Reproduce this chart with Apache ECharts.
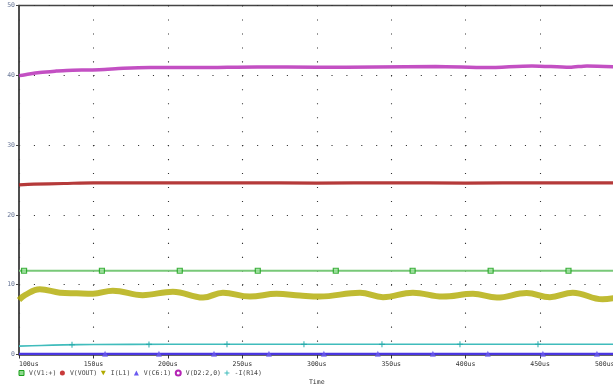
<!DOCTYPE html>
<html>
<head>
<meta charset="utf-8">
<script src="https://cdn.jsdelivr.net/npm/echarts@6/dist/echarts.min.js"></script>
<style>
html,body{margin:0;padding:0;background:#fff;}
#c{width:613px;height:387px;}
</style>
</head>
<body>
<div id="c"></div>
<script>
// ---- data (time in us) ----
const xTicks = [100, 150, 200, 250, 300, 350, 400, 450, 500];
const xTickLabels = ['100us','150us','200us','250us','300us','350us','400us','450us','500us'];
const yTicks = [0, 10, 20, 30, 40, 50];
const yTickLabels = ['0','10','20','30','40','50'];
const seriesNames = ['V(V1:+)', 'V(VOUT)', 'I(L1)', 'V(C6:1)', 'V(D2:2,0)', '-I(R14)'];

// V(V1:+)
const v1T = [100, 500];
const v1V = [12.0, 12.0];
const v1MarkT = [103.4, 155.7, 208.0, 260.4, 312.8, 364.4, 416.8, 469.1];
const v1MarkV = [12.0, 12.0, 12.0, 12.0, 12.0, 12.0, 12.0, 12.0];

// V(VOUT)
const voutT = [100, 110, 130, 150, 200, 250, 300, 350, 400, 450, 500];
const voutV = [24.3, 24.4, 24.5, 24.6, 24.6, 24.6, 24.55, 24.6, 24.55, 24.6, 24.6];

// I(L1)
const il1T = [100, 104, 114, 127.5, 138.7, 149.7, 163, 183, 203.4, 223.6, 237, 255, 273, 288.7, 302, 329, 344.5, 364.6, 384.7, 404.9, 421, 441, 456.6, 472, 492, 500];
const il1V = [7.8, 8.5, 9.35, 8.86, 8.77, 8.7, 9.15, 8.5, 9.0, 8.15, 8.86, 8.3, 8.7, 8.45, 8.3, 8.86, 8.2, 8.86, 8.3, 8.7, 8.15, 8.8, 8.2, 8.86, 7.9, 8.1];

// V(C6:1)
const c6T = [100, 500];
const c6V = [0.1, 0.1];
const c6MarkT = [157.8, 194.0, 231.0, 267.9, 304.8, 341.0, 378.0, 414.9, 451.9, 488.2];
const c6MarkV = [0.1, 0.1, 0.1, 0.1, 0.1, 0.1, 0.1, 0.1, 0.1, 0.1];

// V(D2:2,0)
const d2T = [100, 107, 114, 125, 132, 154, 170, 188, 220, 260, 300, 340, 380, 414, 444.6, 470, 481.5, 500];
const d2V = [39.95, 40.2, 40.4, 40.6, 40.7, 40.8, 41.0, 41.1, 41.1, 41.2, 41.15, 41.2, 41.25, 41.1, 41.35, 41.15, 41.35, 41.2];

// -I(R14)
const r14T = [100, 115, 130, 150, 200, 300, 400, 500];
const r14V = [1.2, 1.3, 1.38, 1.43, 1.46, 1.46, 1.47, 1.47];
const r14MarkT = [135.6, 187.3, 239.7, 291.4, 343.8, 396.2, 448.6];
const r14MarkV = [1.4, 1.45, 1.46, 1.46, 1.46, 1.47, 1.47];

// ---- styling ----
const colors = {
  green: '#78c878', greenMark: '#18a018',
  red: '#a81818',
  olive: '#b0aa00',
  blue: '#4a36e0',
  magenta: '#b424b4',
  teal: '#40bcbc'
};
const FONT = 'DejaVu Sans Mono';
const plusPath = 'path://M4,0H6V4H10V6H6V10H4V6H0V4H4Z';
const downTri = 'path://M0,0L10,0L5,9Z';

function zip(t, v) { return t.map((x, i) => [x, v[i]]); }

const option = {
  animation: false,
  backgroundColor: '#fff',
  grid: {
    left: 19, top: 5.5, right: -1.5, bottom: 32.5,
    outerBoundsMode: 'none', containLabel: false,
    show: true, borderColor: '#444', borderWidth: 1.5, backgroundColor: 'transparent'
  },
  legend: {
    left: 18.5, top: 369.5, padding: 0,
    itemWidth: 5, itemHeight: 5, itemGap: 3.5,
    textStyle: { fontFamily: FONT, fontSize: 6.5, color: '#444' },
    data: [
      { name: seriesNames[0], icon: 'rect', itemStyle: { color: '#8fd88f', borderColor: colors.greenMark, borderWidth: 1 } },
      { name: seriesNames[1], icon: 'circle', itemStyle: { color: '#c83a3a' } },
      { name: seriesNames[2], icon: downTri, itemStyle: { color: colors.olive } },
      { name: seriesNames[3], icon: 'triangle', itemStyle: { color: '#6a5af0' } },
      { name: seriesNames[4], icon: 'emptyCircle', itemStyle: { color: colors.magenta, borderColor: colors.magenta, borderWidth: 1.2 } },
      { name: seriesNames[5], icon: plusPath, itemStyle: { color: colors.teal } }
    ]
  },
  xAxis: {
    type: 'value', min: 100, max: 500, interval: 50,
    name: 'Time', nameLocation: 'middle', nameGap: 24.5,
    nameTextStyle: { fontFamily: FONT, fontSize: 6.5, color: '#333' },
    axisLine: { show: true, onZero: false, lineStyle: { color: '#444', width: 1.5 } },
    axisTick: { show: true, length: 4, lineStyle: { color: '#333', width: 1 } },
    axisLabel: {
      fontFamily: FONT, fontSize: 6.5, color: '#333', margin: 6,
      alignMinLabel: 'left', alignMaxLabel: 'right',
      formatter: v => xTickLabels[xTicks.indexOf(v)]
    },
    splitLine: { show: true, lineStyle: { color: '#333', width: 1.1, type: [1.1, 12.86] } }
  },
  yAxis: {
    type: 'value', min: 0, max: 50, interval: 10,
    axisLine: { show: true, lineStyle: { color: '#444', width: 1.5 } },
    axisTick: { show: true, length: 3, lineStyle: { color: '#444', width: 1 } },
    axisLabel: {
      fontFamily: FONT, fontSize: 6.5, color: '#6a7898', margin: 4,
      formatter: v => yTickLabels[yTicks.indexOf(v)]
    },
    splitLine: { show: true, lineStyle: { color: '#333', width: 1.1, type: [1.1, 13.78] } }
  },
  series: [
    { name: seriesNames[0], type: 'line', data: zip(v1T, v1V), showSymbol: false, z: 3,
      lineStyle: { color: colors.green, width: 2 }, itemStyle: { color: colors.green } },
    { name: seriesNames[0], type: 'scatter', data: zip(v1MarkT, v1MarkV), symbol: 'rect', symbolSize: 5, z: 4,
      itemStyle: { color: '#9be09b', borderColor: colors.greenMark, borderWidth: 1.2 } },

    { name: seriesNames[1], type: 'line', data: zip(voutT, voutV), showSymbol: false, smooth: 0.3, z: 3,
      lineStyle: { color: colors.red, width: 3.2, opacity: 0.85 }, itemStyle: { color: colors.red } },

    { name: seriesNames[2], type: 'line', data: zip(il1T, il1V), showSymbol: false, smooth: 0.4, z: 3,
      lineStyle: { color: colors.olive, width: 6, opacity: 0.8 }, itemStyle: { color: colors.olive } },

    { name: seriesNames[3], type: 'line', data: zip(c6T, c6V), showSymbol: false, z: 5,
      lineStyle: { color: colors.blue, width: 2.2 }, itemStyle: { color: colors.blue } },
    { name: seriesNames[3], type: 'scatter', data: zip(c6MarkT, c6MarkV), symbol: 'triangle', symbolSize: 6, z: 6,
      itemStyle: { color: '#6a5af0' } },

    { name: seriesNames[4], type: 'line', data: zip(d2T, d2V), showSymbol: false, smooth: 0.3, z: 3,
      lineStyle: { color: colors.magenta, width: 3.5, opacity: 0.8 }, itemStyle: { color: colors.magenta } },

    { name: seriesNames[5], type: 'line', data: zip(r14T, r14V), showSymbol: false, smooth: 0.3, z: 3,
      lineStyle: { color: colors.teal, width: 1.6 }, itemStyle: { color: colors.teal } },
    { name: seriesNames[5], type: 'scatter', data: zip(r14MarkT, r14MarkV), symbol: plusPath, symbolSize: 6, z: 4,
      itemStyle: { color: '#20a8a8' } }
  ]
};

const chart = echarts.init(document.getElementById('c'), null, { renderer: 'canvas' });
chart.setOption(option);
</script>
</body>
</html>
